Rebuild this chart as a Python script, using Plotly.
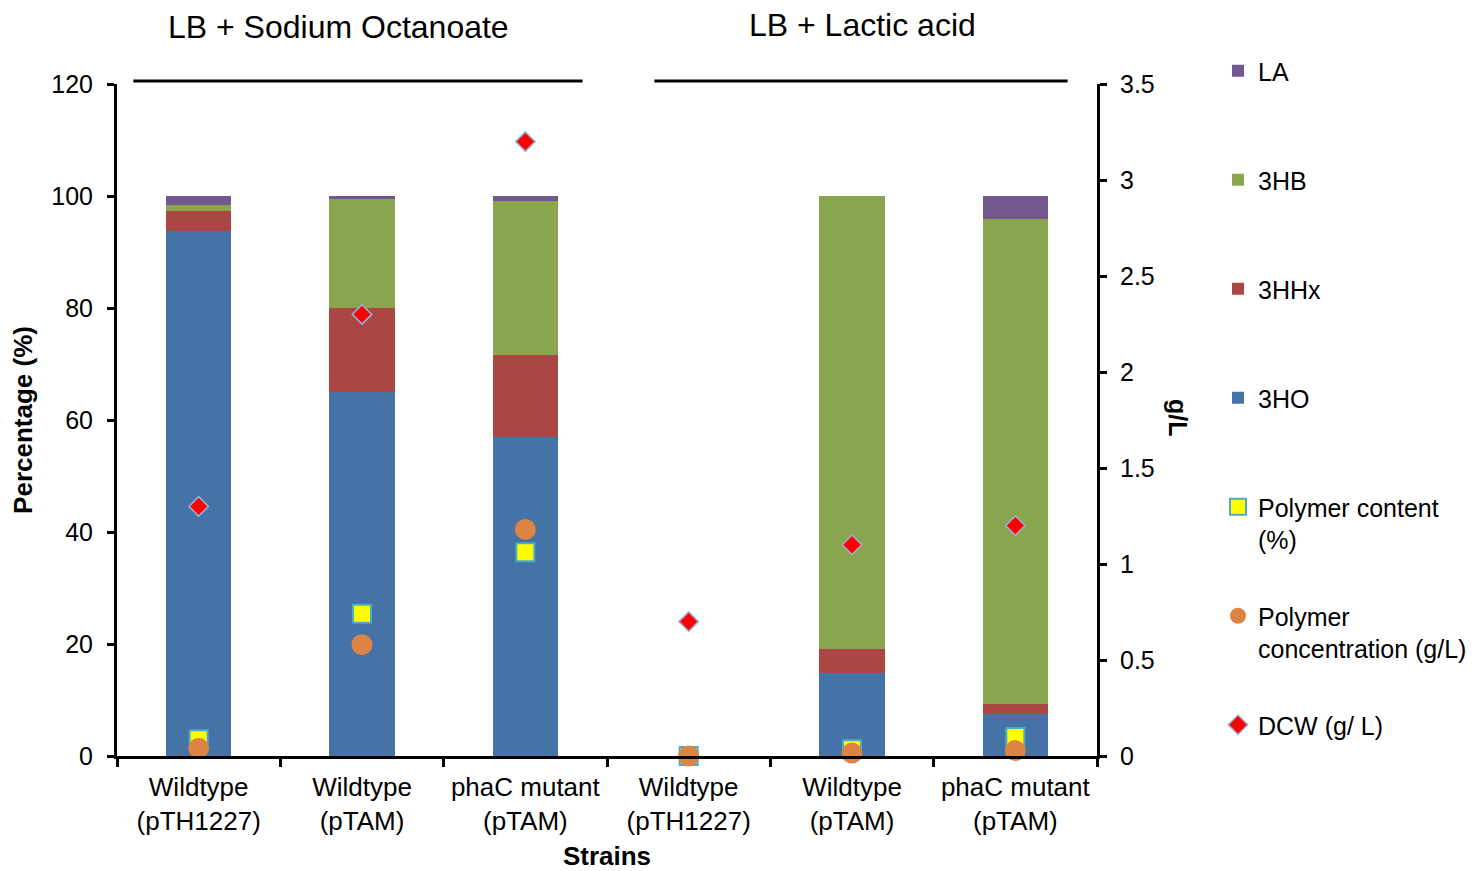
import plotly.graph_objects as go

# Strains (x positions 0..5), two growth media of three strains each
strain_labels = [
    "Wildtype<br>(pTH1227)", "Wildtype<br>(pTAM)", "phaC mutant<br>(pTAM)",
    "Wildtype<br>(pTH1227)", "Wildtype<br>(pTAM)", "phaC mutant<br>(pTAM)",
]
x_pos = [0, 1, 2, 3, 4, 5]

# Monomer composition (%), stacked bottom to top
pct_3HO = [93.7, 65.0, 57.0, 0.0, 14.8, 7.5]
pct_3HHx = [3.6, 15.0, 14.6, 0.0, 4.3, 1.8]
pct_3HB = [1.1, 19.5, 27.5, 0.0, 80.9, 86.6]
pct_LA = [1.6, 0.5, 0.9, 0.0, 0.0, 4.1]

# Polymer content (%) on the left axis
polymer_content = [3.0, 25.4, 36.4, 0.0, 1.2, 3.4]
# Polymer concentration and dry cell weight (g/L) on the right axis
polymer_conc = [0.04, 0.58, 1.18, 0.0, 0.015, 0.028]
dcw = [1.30, 2.30, 3.20, 0.70, 1.10, 1.20]

media_titles = ["LB + Sodium Octanoate", "LB + Lactic acid"]

FONT = "Arial, 'Liberation Sans', sans-serif"
PLOT_L, PLOT_R, PLOT_T, PLOT_B = 117, 1097, 84, 756
W, H = 1481, 871


def px_x(px):
    return (px - PLOT_L) / (PLOT_R - PLOT_L)


def px_y(py):
    return (PLOT_B - py) / (PLOT_B - PLOT_T)


fig = go.Figure()

bar_specs = [
    ("3HO", pct_3HO, "#4572A7", 4),
    ("3HHx", pct_3HHx, "#AA4643", 3),
    ("3HB", pct_3HB, "#89A54E", 2),
    ("LA", pct_LA, "#71588F", 1),
]
for name, vals, color, rank in bar_specs:
    fig.add_trace(go.Bar(
        x=x_pos, y=vals, name=name + "<br>\u00a0", legendrank=rank, legendgroup=name,
        marker=dict(color=color, line=dict(width=0)),
        width=0.4, yaxis="y",
    ))

fig.add_trace(go.Scatter(
    x=x_pos, y=polymer_content, mode="markers", yaxis="y", cliponaxis=False,
    name="Polymer content<br>(%)", legendrank=5, legendgroup="content",
    marker=dict(symbol="square", size=18, color="#FFFF00",
                line=dict(color="#4BACC6", width=2)),
))
fig.add_trace(go.Scatter(
    x=x_pos, y=polymer_conc, mode="markers", yaxis="y2", cliponaxis=False,
    name="Polymer<br>concentration (g/L)", legendrank=6, legendgroup="conc",
    marker=dict(symbol="circle", size=21, color="#DD8444",
                line=dict(color="#DD8444", width=0)),
))
fig.add_trace(go.Scatter(
    x=x_pos, y=dcw, mode="markers", yaxis="y2", cliponaxis=False,
    name="DCW (g/ L)<br>\u00a0", legendrank=7, legendgroup="dcw",
    marker=dict(symbol="diamond", size=15, color="#FF0000",
                line=dict(color="#95B3D7", width=1.5)),
))

# Medium group headers with a bar spanning their strains
group_spans = [(-0.40, 2.35), (2.79, 5.32)]
title_x = [338, 862]
title_y = [27, 25]
for (x0, x1), title, tx, ty in zip(group_spans, media_titles, title_x, title_y):
    fig.add_shape(type="line", xref="x", yref="paper", x0=x0, x1=x1,
                  y0=px_y(81), y1=px_y(81), line=dict(color="black", width=3))
    fig.add_annotation(text=title, xref="paper", yref="paper",
                       x=px_x(tx), y=px_y(ty), xanchor="center", yanchor="middle",
                       showarrow=False,
                       font=dict(size=32, color="black", family=FONT))

# Right axis title
fig.add_annotation(text="<b>g/L</b>", xref="paper", yref="paper",
                   x=px_x(1178), y=px_y(418), xanchor="center", yanchor="middle",
                   showarrow=False, textangle=90,
                   font=dict(size=25, color="black", family=FONT))

axis_common = dict(showgrid=False, zeroline=False, showline=True,
                   linecolor="black", linewidth=3, ticks="outside",
                   tickcolor="black", tickwidth=3, ticklen=7, automargin=False,
                   tickfont=dict(size=25, color="black", family=FONT))

fig.update_layout(
    width=W, height=H,
    margin=dict(l=PLOT_L, r=W - PLOT_R, t=PLOT_T, b=H - PLOT_B, pad=0, autoexpand=False),
    paper_bgcolor="white", plot_bgcolor="white",
    barmode="stack",
    font=dict(family=FONT, color="black"),
    xaxis=dict(
        range=[-0.5, 5.5], tickmode="array", tickvals=x_pos, ticktext=strain_labels,
        showgrid=False, zeroline=False, showline=True, linecolor="black", linewidth=3,
        ticks="", ticklabelstandoff=6, automargin=False,
        tickfont=dict(size=26, color="black", family=FONT),
        minor=dict(tickvals=[-0.5, 0.5, 1.5, 2.5, 3.5, 4.5, 5.5], ticks="outside",
                   ticklen=8, tickwidth=3, tickcolor="black"),
        title=dict(text="<b>Strains</b>", font=dict(size=26, family=FONT), standoff=14),
    ),
    yaxis=dict(range=[0, 120], dtick=20, ticklabelstandoff=9, **axis_common,
               title=dict(text="<b>Percentage (%)</b>", font=dict(size=26, family=FONT),
                          standoff=12)),
    yaxis2=dict(range=[0, 3.5], dtick=0.5, overlaying="y", side="right",
                ticklabelstandoff=8, **axis_common),
    legend=dict(
        x=px_x(1218), xanchor="left",
        y=px_y(48), yanchor="top",
        font=dict(size=25, color="black", family=FONT),
        tracegroupgap=41, valign="top", itemwidth=30,
        traceorder="grouped", maxheight=860,
        bgcolor="rgba(0,0,0,0)",
    ),
    showlegend=True,
)

fig.write_html("out.html")
